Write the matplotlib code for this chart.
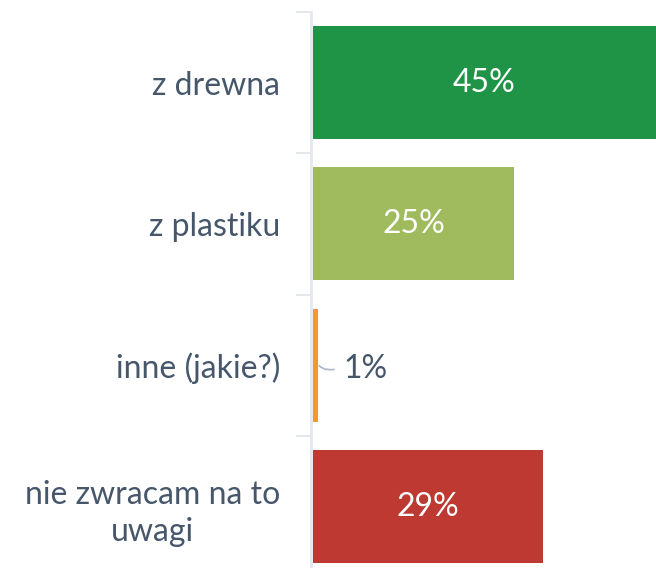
import matplotlib
matplotlib.use("Agg")
import matplotlib.pyplot as plt
from matplotlib.path import Path
from matplotlib.patches import PathPatch

categories = ["z drewna", "z plastiku", "inne (jakie?)", "nie zwracam na to\nuwagi"]
values = [45.2, 25.1, 0.6, 28.8]
labels = ["45%", "25%", "1%", "29%"]
colors = ["#1f9447", "#9fbb5e", "#f7972f", "#bd3931"]

plt.rcParams['font.family'] = ['Lato', 'DejaVu Sans']

W, H = 656, 568
fig = plt.figure(figsize=(W / 100, H / 100), dpi=100)
ax_left = 311 / W
top_px = 12
band = 141.3
ax_h = band * 4 / H
ax_bottom = (H - top_px) / H - ax_h
ax = fig.add_axes([ax_left, ax_bottom, 1 - ax_left, ax_h])

px_per_unit = 8.0
xmax = (W - 311) / px_per_unit
ax.set_xlim(-0.25, xmax - 0.25)
ax.set_ylim(3.5, -0.5)

FS = 23
ypos = list(range(len(categories)))
ax.barh(ypos, values, height=0.8, color=colors, edgecolor='none')

text_color = "#46566b"
for y, v, lab in zip(ypos, values, labels):
    if v > 5:
        xc = min(v, xmax - 0.25) / 2
        ax.text(xc, y, lab, ha='center', va='center', color='white', fontsize=FS)
    else:
        x0 = v + 0.1
        verts = [(x0, y), (x0 + 0.8, y + 0.04), (x0 + 1.2, y + 0.03), (x0 + 2.0, y + 0.03)]
        codes = [Path.MOVETO, Path.CURVE4, Path.CURVE4, Path.CURVE4]
        ax.add_patch(PathPatch(Path(verts, codes), facecolor='none', edgecolor='#a9b6c4', lw=1.2))
        ax.text(x0 + 3.1, y + 0.03, lab, ha='left', va='center', color=text_color, fontsize=FS)

ax.set_yticks(ypos)
ax.set_yticklabels(categories, fontsize=FS, color=text_color, linespacing=1.3)
ax.tick_params(axis='y', length=0, pad=22)
ax.set_yticks([-0.5, 0.5, 1.5, 2.5, 3.5], minor=True)
ax.tick_params(axis='y', which='minor', length=11, width=1.5, color='#e3e8ee')
ax.set_xticks([])
for s in ['top', 'right', 'bottom']:
    ax.spines[s].set_visible(False)
ax.spines['left'].set_color('#e3e8ee')
ax.spines['left'].set_linewidth(2)
for t in ax.get_yticklabels():
    t.set_ha('right')
    t.set_multialignment('center')

fig.savefig("out.png", dpi=100, facecolor='white')
